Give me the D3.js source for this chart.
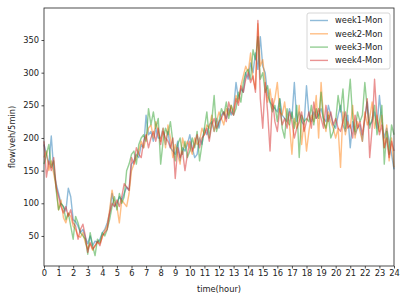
<!DOCTYPE html>
<html>
<head>
<meta charset="utf-8">
<script src="https://cdn.jsdelivr.net/npm/d3@7"></script>
<style>
  body { margin: 0; background: #fff; }
  svg { display: block; font-family: "DejaVu Sans", sans-serif; }
</style>
</head>
<body>
<div id="chart"></div>
<script>
// flow per 5-min slot, sampled every 10 minutes (6 values per hour, 0h..24h)
const week1 = [
  190, 175, 160, 203, 150, 130,
  115, 100, 95, 88, 123, 110,
  75, 72, 65, 55, 60, 48,
  38, 50, 35, 42, 40, 45,
  55, 60, 70, 85, 115, 95,
  100, 110, 105, 115, 125, 120,
  160, 165, 175, 170, 190, 185,
  235, 205, 210, 195, 215, 200,
  200, 215, 190, 210, 185, 180,
  175, 195, 165, 185, 180, 190,
  205, 185, 170, 175, 200, 190,
  215, 205, 220, 225, 210, 230,
  215, 235, 240, 230, 245, 235,
  245, 285, 260, 275, 270, 300,
  290, 315, 300, 330, 305, 355,
  310, 300, 265, 255, 250, 245,
  240, 260, 235, 230, 225, 245,
  230, 285, 225, 240, 225, 220,
  280, 235, 225, 240, 230, 235,
  245, 230, 225, 250, 235, 220,
  215, 235, 250, 220, 210, 235,
  185, 225, 205, 215, 220, 195,
  230, 255, 220, 225, 240, 215,
  265, 225, 200, 215, 195, 175,
  152
];
const week2 = [
  170, 180, 150, 165, 145, 125,
  90, 105, 78, 70, 85, 80,
  65, 60, 50, 48, 55, 40,
  30, 38, 28, 35, 40, 38,
  48, 58, 65, 90, 120, 100,
  95, 70, 105, 100, 95, 115,
  150, 160, 170, 180, 195, 185,
  200, 215, 220, 200, 225, 210,
  195, 215, 185, 220, 200, 170,
  190, 175, 160, 200, 185, 195,
  185, 175, 200, 190, 195, 215,
  205, 220, 215, 235, 210, 225,
  240, 230, 220, 245, 235, 250,
  240, 265, 255, 280, 295, 310,
  300, 330, 290, 275, 375, 310,
  320, 285, 255, 275, 245, 260,
  285, 240, 235, 255, 225, 220,
  175, 230, 215, 250, 190, 225,
  180, 210, 235, 225, 265, 200,
  285, 230, 210, 240, 225, 215,
  200, 215, 155, 240, 205, 225,
  215, 250, 200, 225, 210, 195,
  240, 220, 230, 255, 215, 235,
  210, 235, 185, 220, 165, 200,
  155
];
const week3 = [
  160, 175, 190, 155, 165, 120,
  90, 100, 95, 75, 85, 65,
  45, 80, 70, 55, 50, 45,
  22, 55, 35, 20, 45, 40,
  55, 50, 60, 75, 95, 110,
  90, 115, 100, 110, 150, 160,
  175, 180, 160, 190, 200, 205,
  195, 245, 220, 240, 215, 230,
  160, 195, 215, 205, 225, 195,
  165, 190, 200, 175, 195, 170,
  180, 200, 185, 210, 165, 190,
  215, 240, 200, 225, 265, 210,
  225, 245, 235, 255, 230, 250,
  235, 245, 270, 255, 285, 300,
  305, 290, 335, 320, 355, 290,
  300, 270, 280, 255, 240, 250,
  225, 260, 215, 200, 245, 220,
  240, 215, 250, 170, 235, 225,
  230, 225, 250, 220, 245, 230,
  270, 225, 215, 235, 200, 210,
  225, 265, 240, 275, 215, 250,
  290, 230, 210, 240, 225, 235,
  285, 245, 215, 230, 250, 205,
  225, 250, 160, 210, 175, 220,
  205
];
const week4 = [
  195, 140, 165, 150, 170, 125,
  110, 95, 85, 95, 80, 90,
  70, 65, 45, 60, 68, 50,
  25, 40, 30, 35, 42, 35,
  50, 55, 60, 85, 100, 95,
  105, 95, 110, 130, 125, 120,
  170, 160, 185, 175, 170, 195,
  205, 185, 200, 210, 195, 215,
  190, 210, 200, 195, 185, 200,
  138, 185, 170, 180, 150, 175,
  195, 180, 190, 205, 185, 200,
  205, 215, 195, 220, 230, 215,
  225, 230, 240, 225, 255, 240,
  235, 260, 250, 280, 270, 290,
  300, 285, 295, 270, 380, 260,
  215, 285, 240, 180, 260, 225,
  210, 245, 220, 230, 215, 240,
  225, 200, 215, 225, 240, 210,
  225, 240, 215, 255, 230, 245,
  230, 215, 250, 225, 240, 220,
  230, 215, 210, 225, 240, 215,
  220, 200, 235, 215, 225, 205,
  230, 260, 170, 215, 290, 230,
  205, 220, 185, 200, 170, 195,
  180
];
const seriesNames = ['week1-Mon', 'week2-Mon', 'week3-Mon', 'week4-Mon'];
const seriesColors = ['#1f77b4', '#ff7f0e', '#2ca02c', '#d62728'];
const xTicks = d3.range(0, 25);
const yTicks = [50, 100, 150, 200, 250, 300, 350];
const stepHours = 1 / 6;

const width = 408, height = 297;
const margin = { top: 8, right: 14, bottom: 31, left: 44 };
const fontSize = 8.3;

const svg = d3.select('#chart')
  .append('svg')
  .attr('width', width)
  .attr('height', height);

const x = d3.scaleLinear().domain([0, 24]).range([margin.left, width - margin.right]);
const y = d3.scaleLinear().domain([4, 399]).range([height - margin.bottom, margin.top]);

// lines
const allSeries = [week1, week2, week3, week4];
const line = d3.line()
  .x((d, i) => x(i * stepHours))
  .y(d => y(d));

svg.append('g')
  .selectAll('path')
  .data(allSeries)
  .enter()
  .append('path')
  .attr('d', d => line(d))
  .attr('fill', 'none')
  .attr('stroke', (d, i) => seriesColors[i])
  .attr('stroke-opacity', 0.5)
  .attr('stroke-width', 1.4)
  .attr('stroke-linejoin', 'round');

// axes
const xAxis = svg.append('g')
  .attr('transform', `translate(0,${height - margin.bottom})`)
  .call(d3.axisBottom(x).tickValues(xTicks).tickFormat(d3.format('d')).tickSize(2.5).tickPadding(2));
const yAxis = svg.append('g')
  .attr('transform', `translate(${margin.left},0)`)
  .call(d3.axisLeft(y).tickValues(yTicks).tickSize(2.5).tickPadding(2.5));

[xAxis, yAxis].forEach(a => {
  a.select('.domain').remove();
  a.selectAll('text').attr('font-size', fontSize).attr('fill', '#222').attr('font-family', '"DejaVu Sans", sans-serif');
  a.selectAll('line').attr('stroke', '#222').attr('stroke-width', 0.8);
});

// frame
svg.append('rect')
  .attr('x', margin.left)
  .attr('y', margin.top)
  .attr('width', width - margin.left - margin.right)
  .attr('height', height - margin.top - margin.bottom)
  .attr('fill', 'none')
  .attr('stroke', '#222')
  .attr('stroke-width', 0.8);

// axis labels
svg.append('text')
  .attr('x', (margin.left + width - margin.right) / 2)
  .attr('y', 292)
  .attr('text-anchor', 'middle')
  .attr('font-size', fontSize)
  .attr('fill', '#222')
  .text('time(hour)');

svg.append('text')
  .attr('transform', `translate(15,${(margin.top + height - margin.bottom) / 2}) rotate(-90)`)
  .attr('text-anchor', 'middle')
  .attr('font-size', fontSize)
  .attr('fill', '#222')
  .text('flow(veh/5min)');

// legend
const legend = svg.append('g').attr('transform', 'translate(307,13)');
legend.append('rect')
  .attr('width', 83)
  .attr('height', 56)
  .attr('rx', 2)
  .attr('fill', '#fff')
  .attr('fill-opacity', 0.8)
  .attr('stroke', '#ccc')
  .attr('stroke-width', 0.8);

const items = legend.selectAll('.item')
  .data(seriesNames)
  .enter()
  .append('g')
  .attr('class', 'item')
  .attr('transform', (d, i) => `translate(0,${7.5 + i * 13.3})`);

items.append('line')
  .attr('x1', 3).attr('x2', 21)
  .attr('stroke', (d, i) => seriesColors[i])
  .attr('stroke-opacity', 0.5)
  .attr('stroke-width', 1.4);

items.append('text')
  .attr('x', 28)
  .attr('dy', '0.35em')
  .attr('font-size', fontSize)
  .attr('fill', '#222')
  .text(d => d);
</script>
</body>
</html>
